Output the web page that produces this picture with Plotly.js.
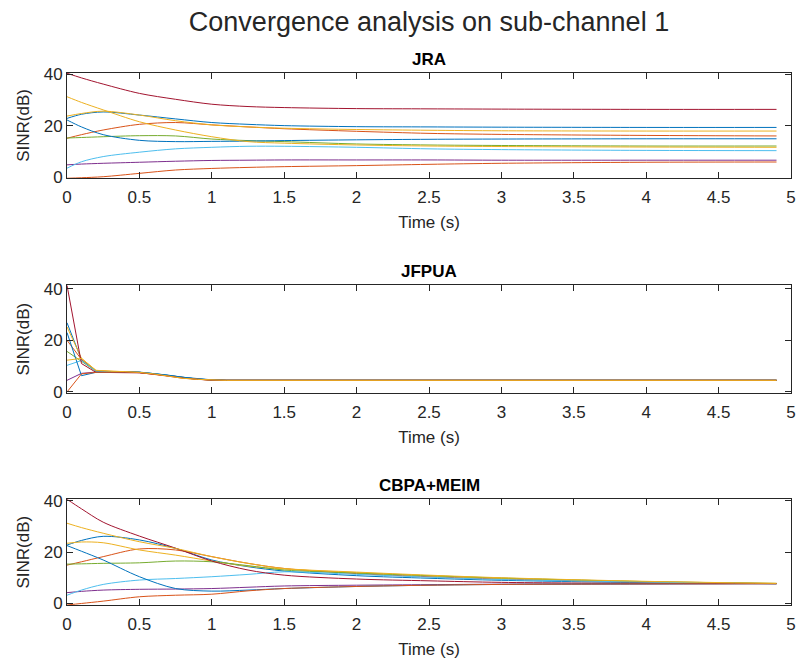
<!DOCTYPE html>
<html>
<head>
<meta charset="utf-8">
<script src="https://cdn.plot.ly/plotly-3.0.1.min.js"></script>
<style>html,body{margin:0;padding:0;background:#fff;}#chart{width:800px;height:668px;}</style>
</head>
<body>
<div id="chart"></div>
<script>
// ---- Data ----
const chartTitle = "Convergence analysis on sub-channel 1";
const panelTitles = ["JRA", "JFPUA", "CBPA+MEIM"];
const xTickVals = [0, 0.5, 1, 1.5, 2, 2.5, 3, 3.5, 4, 4.5, 5];
const xTickText = ["0", "0.5", "1", "1.5", "2", "2.5", "3", "3.5", "4", "4.5", "5"];
const yTickVals = [0, 20, 40];

// time samples (s)
const timeSmooth = [0, 0.1, 0.25, 0.5, 0.75, 1, 1.25, 1.5, 2, 2.5, 3, 4, 4.9];
const timeStep = [0, 0.1, 0.2, 0.3, 0.4, 0.5, 0.6, 0.7, 0.8, 0.9, 1.0, 1.1, 4.9];

// MATLAB default colour order (series 1..10)
const seriesColors = ["#0072BD", "#D95319", "#EDB120", "#7E2F8E", "#77AC30",
                      "#4DBEEE", "#A2142F", "#0072BD", "#D95319", "#EDB120"];

// JRA SINR (dB) per user
const jraU1  = [22.8, 24.4, 25.3, 24.1, 22.6, 21.2, 20.5, 20.0, 19.6, 19.5, 19.4, 19.3, 19.3];
const jraU2  = [15.1, 16.5, 18.3, 20.5, 21.2, 20.3, 19.5, 18.8, 17.8, 17.0, 16.6, 16.2, 16.0];
const jraU3  = [23.7, 24.7, 25.6, 24.1, 21.9, 20.3, 19.5, 19.0, 18.5, 18.2, 18.0, 17.9, 17.9];
const jraU4  = [4.8, 5.1, 5.4, 5.8, 6.2, 6.5, 6.6, 6.7, 6.7, 6.7, 6.6, 6.6, 6.6];
const jraU5  = [15.2, 15.4, 15.7, 16.1, 16.0, 14.8, 14.2, 13.8, 12.9, 12.5, 12.3, 12.1, 12.1];
const jraU6  = [3.5, 6.0, 8.0, 9.7, 11.0, 11.6, 12.0, 12.0, 11.6, 11.0, 10.7, 10.4, 10.3];
const jraU7  = [40.3, 38.5, 36.1, 32.5, 30.2, 28.3, 27.4, 27.0, 26.6, 26.5, 26.4, 26.3, 26.3];
const jraU8  = [22.2, 19.5, 16.5, 14.3, 13.8, 13.9, 14.0, 14.2, 14.5, 14.7, 14.8, 14.9, 14.9];
const jraU9  = [-0.4, -0.2, 0.2, 1.5, 2.8, 3.4, 3.8, 4.1, 4.5, 5.0, 5.4, 5.8, 5.9];
const jraU10 = [31.2, 29.0, 26.1, 21.5, 18.3, 15.7, 13.8, 13.2, 12.5, 12.1, 11.9, 11.7, 11.6];

// JFPUA SINR (dB) per user
const jfpuaU1  = [26.8, 12.5, 8.0, 7.9, 7.8, 7.6, 7.1, 6.4, 5.6, 5.0, 4.7, 4.5, 4.5];
const jfpuaU2  = [20.0, 12.6, 8.2, 8.0, 7.8, 7.5, 6.9, 6.2, 5.4, 4.9, 4.6, 4.5, 4.5];
const jfpuaU3  = [25.2, 13.0, 8.3, 8.0, 7.9, 7.6, 7.0, 6.2, 5.4, 4.9, 4.6, 4.5, 4.5];
const jfpuaU4  = [4.5, 7.2, 7.7, 7.8, 7.8, 7.6, 7.1, 6.4, 5.6, 5.0, 4.7, 4.5, 4.5];
const jfpuaU5  = [15.7, 12.0, 8.0, 7.9, 7.8, 7.6, 7.0, 6.3, 5.5, 5.0, 4.6, 4.5, 4.5];
const jfpuaU6  = [10.3, 12.2, 8.0, 7.9, 7.8, 7.6, 7.1, 6.4, 5.6, 5.0, 4.7, 4.5, 4.5];
const jfpuaU7  = [41.3, 11.0, 7.6, 7.6, 7.6, 7.4, 6.9, 6.2, 5.4, 4.9, 4.6, 4.5, 4.5];
const jfpuaU8  = [23.0, 6.3, 7.6, 7.8, 7.8, 7.7, 7.2, 6.5, 5.7, 5.1, 4.7, 4.5, 4.5];
const jfpuaU9  = [0.0, 7.0, 7.6, 7.7, 7.7, 7.5, 6.9, 6.1, 5.3, 4.9, 4.6, 4.5, 4.5];
const jfpuaU10 = [12.3, 13.0, 8.4, 8.0, 7.9, 7.6, 7.0, 6.1, 5.3, 4.9, 4.6, 4.5, 4.5];

// CBPA+MEIM SINR (dB) per user
const cbpaU1  = [22.7, 24.5, 26.1, 24.7, 21.4, 16.9, 14.3, 12.6, 10.8, 9.8, 9.0, 8.1, 7.7];
const cbpaU2  = [14.9, 16.2, 18.2, 21.2, 20.8, 18.2, 15.6, 13.6, 11.6, 10.4, 9.5, 8.3, 7.7];
const cbpaU3  = [23.4, 23.9, 23.6, 20.8, 18.8, 16.5, 14.5, 13.4, 12.0, 10.8, 9.8, 8.5, 7.8];
const cbpaU4  = [4.2, 4.7, 5.2, 5.5, 5.6, 5.8, 6.3, 6.8, 7.1, 7.3, 7.5, 7.6, 7.7];
const cbpaU5  = [15.3, 15.4, 15.6, 15.8, 16.5, 16.2, 14.7, 13.0, 11.8, 10.8, 9.9, 8.5, 7.8];
const cbpaU6  = [3.2, 5.2, 7.4, 9.1, 9.7, 10.4, 11.3, 12.3, 11.3, 10.2, 9.3, 8.3, 7.7];
const cbpaU7  = [40.5, 36.8, 31.6, 26.2, 21.5, 16.5, 13.0, 11.0, 9.5, 8.8, 8.2, 7.8, 7.7];
const cbpaU8  = [22.5, 20.3, 16.9, 10.4, 5.8, 4.8, 5.2, 5.8, 6.6, 7.1, 7.4, 7.6, 7.7];
const cbpaU9  = [-0.6, 0.0, 0.9, 2.6, 3.2, 3.6, 4.9, 5.8, 6.6, 7.1, 7.4, 7.6, 7.7];
const cbpaU10 = [31.2, 29.5, 27.3, 24.0, 21.4, 18.2, 15.6, 13.6, 12.2, 11.0, 10.0, 8.6, 7.8];

const jraSeries   = [jraU1, jraU2, jraU3, jraU4, jraU5, jraU6, jraU7, jraU8, jraU9, jraU10];
const jfpuaSeries = [jfpuaU1, jfpuaU2, jfpuaU3, jfpuaU4, jfpuaU5, jfpuaU6, jfpuaU7, jfpuaU8, jfpuaU9, jfpuaU10];
const cbpaSeries  = [cbpaU1, cbpaU2, cbpaU3, cbpaU4, cbpaU5, cbpaU6, cbpaU7, cbpaU8, cbpaU9, cbpaU10];

// ---- Build ----
const W = 800, H = 668;
const textColor = "#262626";
const fontFamily = "Liberation Sans, Arial, Helvetica, sans-serif";
const xL = 67 / W, xR = 791 / W;
const panelsPx = [[73, 178], [285.3, 393], [499.3, 605]];
const yRanges = [[-0.3, 40.4], [-0.4, 41.3], [-0.6, 40.5]];
const panels = [
  {series: jraSeries, t: timeSmooth, shape: "spline"},
  {series: jfpuaSeries, t: timeStep, shape: "linear"},
  {series: cbpaSeries, t: timeSmooth, shape: "spline"}
];

const traces = [];
panels.forEach((p, pi) => {
  const suffix = pi === 0 ? "" : String(pi + 1);
  p.series.forEach((vals, si) => {
    traces.push({
      x: p.t, y: vals, type: "scatter", mode: "lines",
      xaxis: "x" + suffix, yaxis: "y" + suffix,
      line: {color: seriesColors[si], width: 1, shape: p.shape, smoothing: 0.9},
      showlegend: false, hoverinfo: "skip"
    });
  });
});

const layout = {
  width: W, height: H,
  margin: {l: 0, r: 0, t: 0, b: 0},
  paper_bgcolor: "#ffffff", plot_bgcolor: "#ffffff",
  font: {family: fontFamily, color: textColor, size: 17},
  showlegend: false,
  title: {text: chartTitle, x: (xL + xR) / 2, xanchor: "center", y: 1 - 22 / H, yanchor: "middle",
          font: {size: 27, color: textColor, family: fontFamily}},
  annotations: []
};

panelsPx.forEach((px, pi) => {
  const suffix = pi === 0 ? "" : String(pi + 1);
  const domY = [1 - px[1] / H, 1 - px[0] / H];
  layout["xaxis" + suffix] = {
    domain: [xL, xR], range: [0, 5], anchor: "y" + suffix,
    tickvals: xTickVals, ticktext: xTickText,
    ticks: "inside", ticklen: 6, tickcolor: "#262626", tickwidth: 1,
    showline: true, linecolor: "#262626", linewidth: 1, mirror: "allticks",
    showgrid: false, zeroline: false, ticklabelstandoff: 4,
    tickfont: {size: 17, color: textColor},
    title: {text: "Time (s)", font: {size: 17, color: textColor}, standoff: 9}
  };
  layout["yaxis" + suffix] = {
    domain: domY, range: yRanges[pi], anchor: "x" + suffix,
    tickvals: yTickVals,
    ticks: "inside", ticklen: 6, tickcolor: "#262626", tickwidth: 1,
    showline: true, linecolor: "#262626", linewidth: 1, mirror: "allticks",
    showgrid: false, zeroline: false,
    tickfont: {size: 17, color: textColor},
    title: {text: "SINR(dB)", font: {size: 17, color: textColor}, standoff: 9}
  };
  layout.annotations.push({
    text: "<b>" + panelTitles[pi] + "</b>", xref: "paper", yref: "paper",
    x: (xL + xR) / 2, y: domY[1], xanchor: "center", yanchor: "bottom", yshift: 2,
    showarrow: false, font: {size: 17, color: "#000000", family: fontFamily}
  });
});

Plotly.newPlot("chart", traces, layout, {staticPlot: true, displayModeBar: false});
</script>
</body>
</html>
